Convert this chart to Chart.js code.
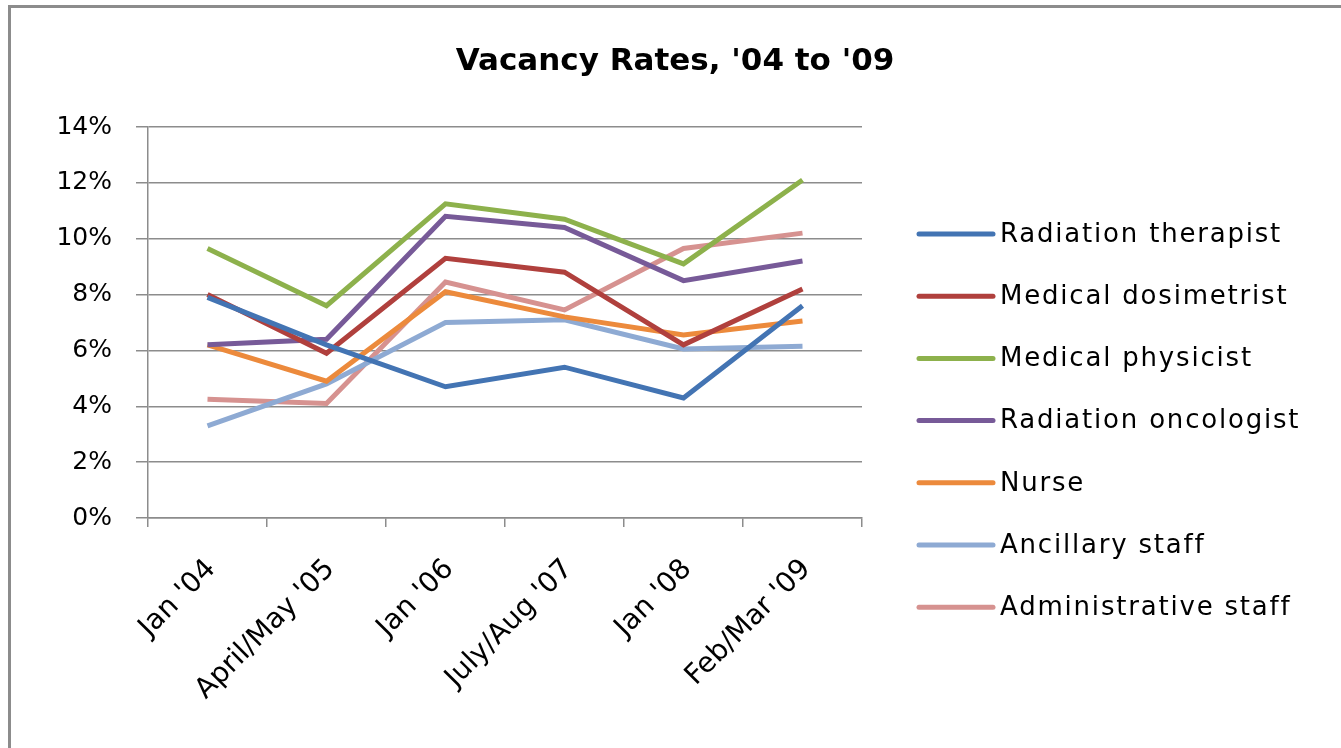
<!DOCTYPE html>
<html>
<head>
<meta charset="utf-8">
<script src="https://cdn.jsdelivr.net/npm/chart.js@4.4.1/dist/chart.umd.min.js"></script>
<style>
  html, body { margin: 0; padding: 0; background: #fff; }
  #wrap { position: relative; width: 1341px; height: 748px; overflow: hidden; }
  #frame { position: absolute; left: 8px; top: 5px; width: 1340px; height: 760px; border: 3px solid #8c8c8c; box-sizing: border-box; }
  canvas { position: absolute; left: 0; top: 0; }
</style>
</head>
<body>
<div id="wrap">
  <div id="frame"></div>
  <canvas id="vacancyChart" width="1341" height="748"></canvas>
</div>
<script>
// Vacancy rates by staff category
const periods = ["Jan '04", "April/May '05", "Jan '06", "July/Aug '07", "Jan '08", "Feb/Mar '09"];
const yTicks = [0, 2, 4, 6, 8, 10, 12, 14];

const radiationTherapist = [7.9, 6.2, 4.7, 5.4, 4.3, 7.6];
const medicalDosimetrist = [8.0, 5.9, 9.3, 8.8, 6.2, 8.2];
const medicalPhysicist = [9.65, 7.6, 11.25, 10.7, 9.1, 12.1];
const radiationOncologist = [6.2, 6.4, 10.8, 10.4, 8.5, 9.2];
const nurse = [6.2, 4.9, 8.1, 7.2, 6.55, 7.05];
const ancillaryStaff = [3.3, 4.8, 7.0, 7.1, 6.05, 6.15];
const administrativeStaff = [4.25, 4.1, 8.45, 7.45, 9.65, 10.2];

const series = [
    { label: 'Radiation therapist', data: radiationTherapist, color: '#4374b3' },
    { label: 'Medical dosimetrist', data: medicalDosimetrist, color: '#b0403d' },
    { label: 'Medical physicist', data: medicalPhysicist, color: '#8db14c' },
    { label: 'Radiation oncologist', data: radiationOncologist, color: '#775a98' },
    { label: 'Nurse', data: nurse, color: '#ec8a3c' },
    { label: 'Ancillary staff', data: ancillaryStaff, color: '#8eaad3' },
    { label: 'Administrative staff', data: administrativeStaff, color: '#d69290' }
];

const FONT = '"DejaVu Sans", Verdana, sans-serif';

// Title and legend drawn to match the spreadsheet look
const decorPlugin = {
    id: 'decor',
    afterDraw(chart) {
        const c = chart.ctx;
        c.save();
        c.fillStyle = '#000';
        c.font = 'bold 31px ' + FONT;
        c.textAlign = 'center';
        c.textBaseline = 'middle';
        c.fillText("Vacancy Rates, '04 to '09", 675, 62);

        c.font = '26px ' + FONT;
        c.letterSpacing = '1.8px';
        c.textAlign = 'left';
        chart.data.datasets.forEach((ds, i) => {
            const y = 234 + i * 62.2;
            c.strokeStyle = ds.borderColor;
            c.lineWidth = 5;
            c.lineCap = 'round';
            c.beginPath();
            c.moveTo(919, y);
            c.lineTo(993, y);
            c.stroke();
            c.fillStyle = '#000';
            c.fillText(ds.label, 1000, y + 1);
        });
        c.restore();
    }
};

const ctx = document.getElementById('vacancyChart').getContext('2d');
const vacancyChart = new Chart(ctx, {
    type: 'line',
    data: {
        labels: periods,
        datasets: series.map(s => ({
            label: s.label,
            data: s.data,
            borderColor: s.color,
            backgroundColor: s.color,
            borderWidth: 5,
            pointRadius: 0,
            fill: false,
            tension: 0
        }))
    },
    options: {
        responsive: false,
        animation: false,
        layout: { padding: { top: 127, right: 479, left: 0, bottom: 0 } },
        plugins: {
            legend: { display: false },
            title: { display: false },
            tooltip: { enabled: false }
        },
        scales: {
            x: {
                offset: true,
                grid: { display: true, drawOnChartArea: false, offset: true, tickLength: 9, color: '#8c8c8c', lineWidth: 1.5 },
                border: { color: '#8c8c8c', width: 1.5 },
                ticks: {
                    maxRotation: 45,
                    minRotation: 45,
                    padding: 26,
                    labelOffset: 4,
                    color: '#000',
                    font: { family: FONT, size: 28 }
                },
                afterFit(scale) { scale.height = 230; }
            },
            y: {
                min: 0,
                max: 14,
                afterBuildTicks(scale) { scale.ticks = yTicks.map(v => ({ value: v })); },
                grid: { color: '#8c8c8c', lineWidth: 1.5, tickLength: 12 },
                border: { color: '#8c8c8c', width: 1.5 },
                ticks: {
                    padding: 24,
                    color: '#000',
                    font: { family: FONT, size: 25 },
                    callback: v => v + '%'
                },
                afterFit(scale) { scale.width = 148; }
            }
        }
    },
    plugins: [decorPlugin]
});
</script>
</body>
</html>
